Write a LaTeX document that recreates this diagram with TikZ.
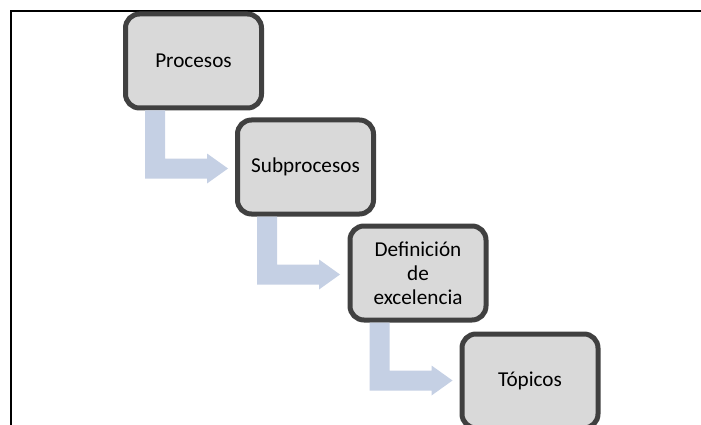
\documentclass[tikz,border=0pt]{standalone}
\usepackage{fontspec}
\setmainfont{Carlito}
\usetikzlibrary{calc}
\definecolor{boxfill}{RGB}{217,217,217}
\definecolor{boxline}{RGB}{64,64,64}
\definecolor{flowblue}{RGB}{197,208,228}
\tikzset{
  stagebox/.style={draw=boxline, fill=boxfill, line width=5pt,
    rounded corners=14pt, minimum width=136pt, minimum height=94pt,
    align=center, inner sep=2pt,
    font=\fontsize{21.2}{23.8}\selectfont},
  bentarrow/.style={fill=flowblue, draw=none},
  frameline/.style={line width=2pt, black}
}
\begin{document}
\begin{tikzpicture}[x=1pt, y=-1pt]
  \useasboundingbox (0,0) rectangle (701,425);
  % page frame: top and left rules
  \draw[frameline] (701,10.7) -- (11,10.7) -- (11,425);

  % stages
  \node[stagebox] (p1) at (193.5,61)  {Procesos};
  \node[stagebox] (p2) at (305.5,167) {Subprocesos};
  \node[stagebox] (p3) at (418,273)   {Definición\\de\\excelencia};
  \node[stagebox] (p4) at (530,381)   {Tópicos};

  % bent block arrows from each stage to the next
  \foreach \a/\b in {p1/p2, p2/p3, p3/p4}{
    \fill[bentarrow]
      ($(\a.south west)+(22,0)$) -- ++(0,68) -- ++(62,0) -- ++(0,5)
      -- ($(\a.south west)+(105,58)$)
      -- ($(\a.south west)+(84,43)$) -- ++(0,5) -- ++(-42,0)
      -- ($(\a.south west)+(42,0)$) -- cycle;
  }
\end{tikzpicture}
\end{document}
